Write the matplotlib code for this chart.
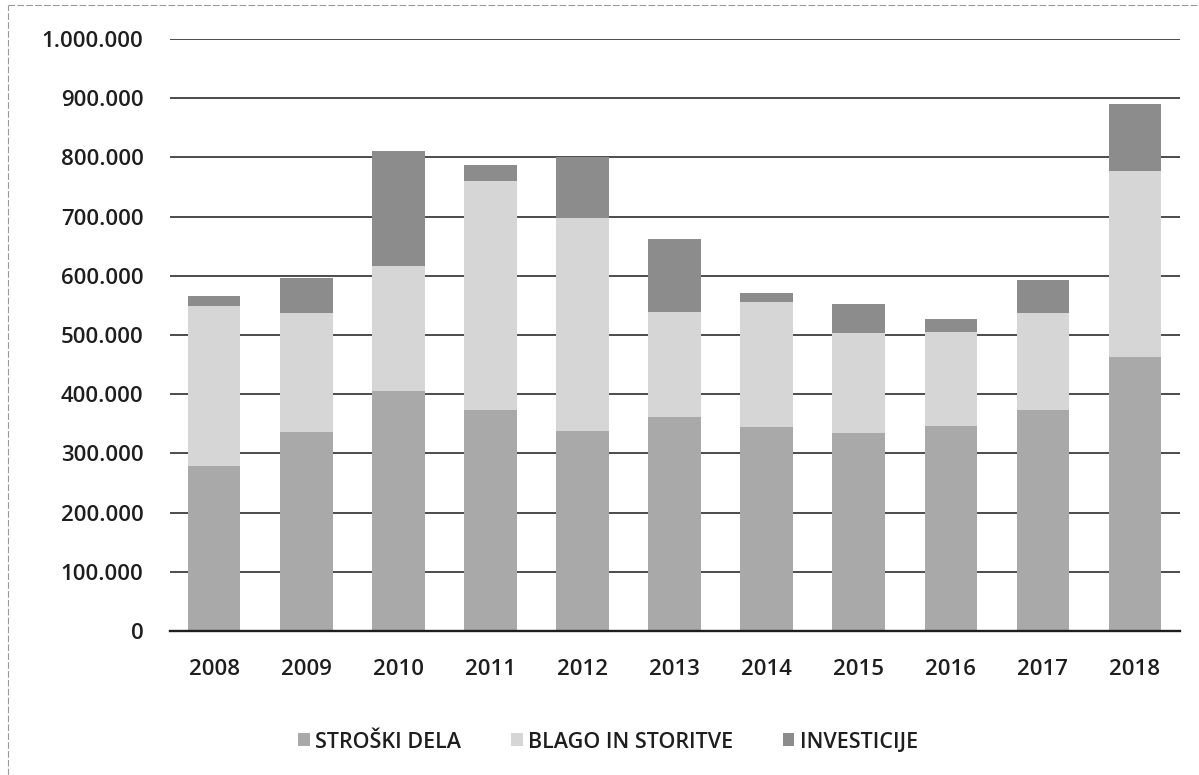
"""
stacked bar chart of yearly costs (scanned Excel chart look)
"""

import matplotlib.pyplot as plt
from matplotlib.lines import Line2D
from matplotlib.ticker import FuncFormatter

years = ["2008", "2009", "2010", "2011", "2012", "2013",
         "2014", "2015", "2016", "2017", "2018"]
stroski_dela = [279000, 336000, 405000, 374000, 337000, 362000,
                345000, 334000, 346000, 374000, 463000]
blago_storitve = [270000, 202000, 212000, 386000, 361000, 177000,
                  211000, 170000, 159000, 163000, 314000]
investicije = [17000, 59000, 194000, 28000, 103000, 123000,
               15000, 48000, 22000, 56000, 113000]

series_names = ["STROŠKI DELA", "BLAGO IN STORITVE", "INVESTICIJE"]
colors = ["#a9a9a9", "#d6d6d6", "#8c8c8c"]


def dot_thousands(v, pos):
    return f"{int(v):,}".replace(",", ".")


def viz():
    plt.rcParams["font.family"] = ["Open Sans", "DejaVu Sans"]
    fig = plt.figure(figsize=(11.99, 7.75), dpi=100)
    ax = fig.add_axes([170 / 1199, 1 - 631 / 775, 1010 / 1199, 592 / 775])

    x = range(len(years))
    bottom2 = [a + b for a, b in zip(stroski_dela, blago_storitve)]
    ax.bar(x, stroski_dela, width=0.57, color=colors[0], label=series_names[0], zorder=3)
    ax.bar(x, blago_storitve, width=0.57, bottom=stroski_dela, color=colors[1],
           label=series_names[1], zorder=3)
    ax.bar(x, investicije, width=0.57, bottom=bottom2, color=colors[2],
           label=series_names[2], zorder=3)

    ax.set_ylim(0, 1000000)
    ax.set_xlim(-0.48, 10.49)
    ax.set_yticks(range(0, 1000001, 100000))
    ax.yaxis.set_major_formatter(FuncFormatter(dot_thousands))
    ax.set_xticks(list(x))
    ax.set_xticklabels(years)
    ax.grid(axis="y", color="#2e2e2e", linewidth=1.2, zorder=1)
    ax.tick_params(axis="both", length=0, labelsize=16, colors="#1e1e1e")
    ax.tick_params(axis="y", pad=19)
    ax.tick_params(axis="x", pad=20)
    for lab in ax.get_xticklabels() + ax.get_yticklabels():
        lab.set_fontweight("semibold")
    for side in ["top", "right", "left"]:
        ax.spines[side].set_visible(False)
    ax.spines["bottom"].set_color("#1e1e1e")
    ax.spines["bottom"].set_linewidth(1.7)
    ax.spines["bottom"].set_zorder(4)

    leg = fig.legend(loc="center", bbox_to_anchor=(608 / 1199, 1 - 742 / 775), ncol=3,
                     frameon=False, handlelength=0.55, handleheight=0.55,
                     handletextpad=0.25, columnspacing=2.3,
                     prop={"size": 15.5, "weight": "semibold"})
    for t in leg.get_texts():
        t.set_color("#1e1e1e")

    # faint frame left over from the scanned chart border
    fig.add_artist(Line2D([8 / 1199, 8 / 1199], [0, 1 - 5 / 775],
                          transform=fig.transFigure, color="#9a9a9a", linewidth=0.8,
                          linestyle=(0, (6, 2))))
    fig.add_artist(Line2D([8 / 1199, 1], [1 - 5 / 775, 1 - 5 / 775],
                          transform=fig.transFigure, color="#9a9a9a", linewidth=0.8,
                          linestyle=(0, (6, 2))))

    fig.savefig("out.png", dpi=100)


if __name__ == "__main__":
    viz()
